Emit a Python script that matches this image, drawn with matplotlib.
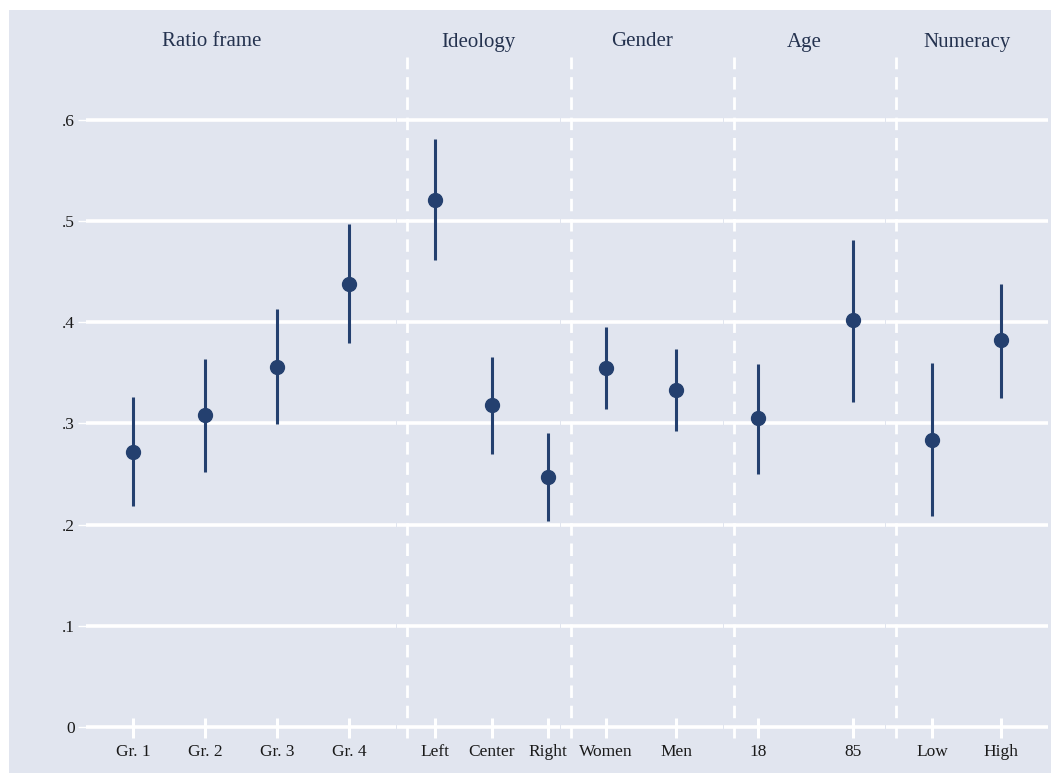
import matplotlib
matplotlib.use('Agg')
import matplotlib.pyplot as plt
from matplotlib.patches import Rectangle

# Datos: estimaciones puntuales e intervalos de confianza por grupo
groups = ['Ratio frame', 'Ideology', 'Gender', 'Age', 'Numeracy']
labels = [['Gr. 1', 'Gr. 2', 'Gr. 3', 'Gr. 4'],
          ['Left', 'Center', 'Right'],
          ['Women', 'Men'],
          ['18', '85'],
          ['Low', 'High']]
estimates = [[0.272, 0.308, 0.356, 0.438],
             [0.521, 0.318, 0.247],
             [0.355, 0.333],
             [0.305, 0.402],
             [0.284, 0.382]]
lower = [[0.218, 0.252, 0.299, 0.379],
         [0.461, 0.270, 0.204],
         [0.314, 0.292],
         [0.250, 0.321],
         [0.208, 0.325]]
upper = [[0.326, 0.364, 0.413, 0.497],
         [0.581, 0.366, 0.290],
         [0.395, 0.373],
         [0.359, 0.481],
         [0.360, 0.438]]
yticks = [0, 0.1, 0.2, 0.3, 0.4, 0.5, 0.6]
ytick_labels = ['0', '.1', '.2', '.3', '.4', '.5', '.6']

# Layout (pixeles de la figura) y limites de cada panel
W, H = 1051, 773
panel_left = [86, 397, 561, 724, 886]
panel_right = [396, 560, 723, 885, 1048]
xlims = [(0.347, 4.65), (0.327, 3.21), (0.357, 2.67), (0.642, 2.337), (0.333, 2.68)]
top_px, bottom_px = 57, 738
title_px = [212, 478, 642, 804, 967]

bg = '#e1e5ef'
navy = '#24406f'
serif = ['Liberation Serif', 'DejaVu Serif']

fig = plt.figure(figsize=(W / 100, H / 100), dpi=100)
fig.patch.set_facecolor('white')
fig.add_artist(Rectangle((9 / W, -0.01), 1.01, 1.01 - 10 / H, transform=fig.transFigure,
                         facecolor=bg, edgecolor='none', zorder=0))

for i, g in enumerate(groups):
    l, r = panel_left[i], panel_right[i]
    ax = fig.add_axes([l / W, (H - bottom_px) / H, (r - l) / W, (bottom_px - top_px) / H])
    ax.set_facecolor('none')
    for s in ax.spines.values():
        s.set_visible(False)
    ax.set_xlim(*xlims[i])
    ax.set_ylim(-0.0109, 0.662)
    for yv in yticks:
        ax.axhline(yv, color='white', lw=2.6, zorder=1)
    x = list(range(1, len(labels[i]) + 1))
    ax.vlines(x, lower[i], upper[i], color=navy, lw=2.2, zorder=3)
    ax.plot(x, estimates[i], 'o', color=navy, ms=10, zorder=4)
    ax.set_xticks(x)
    ax.set_xticklabels(labels[i], family=serif, fontsize=12.5, color='#1a1a1a')
    ax.tick_params(axis='x', direction='in', length=14.4, width=2.2, color='white', pad=4)
    if i == 0:
        ax.set_yticks(yticks)
        ax.set_yticklabels(ytick_labels, family=serif, fontsize=12.5, color='#1a1a1a')
        ax.tick_params(axis='y', direction='out', length=6, width=1, color='white', pad=2)
    else:
        ax.set_yticks([])
        # linea discontinua separando los paneles
        f = 10 / (r - l)
        ax.plot([f, f], [0, 1], transform=ax.transAxes, color='white', lw=2,
                dashes=(4.5, 2.8), clip_on=False, zorder=2)
    fig.text(title_px[i] / W, 1 - 42 / H, g, ha='center', va='center',
             family=serif, fontsize=15, color='#24324f')

fig.savefig('out.png', dpi=100)
